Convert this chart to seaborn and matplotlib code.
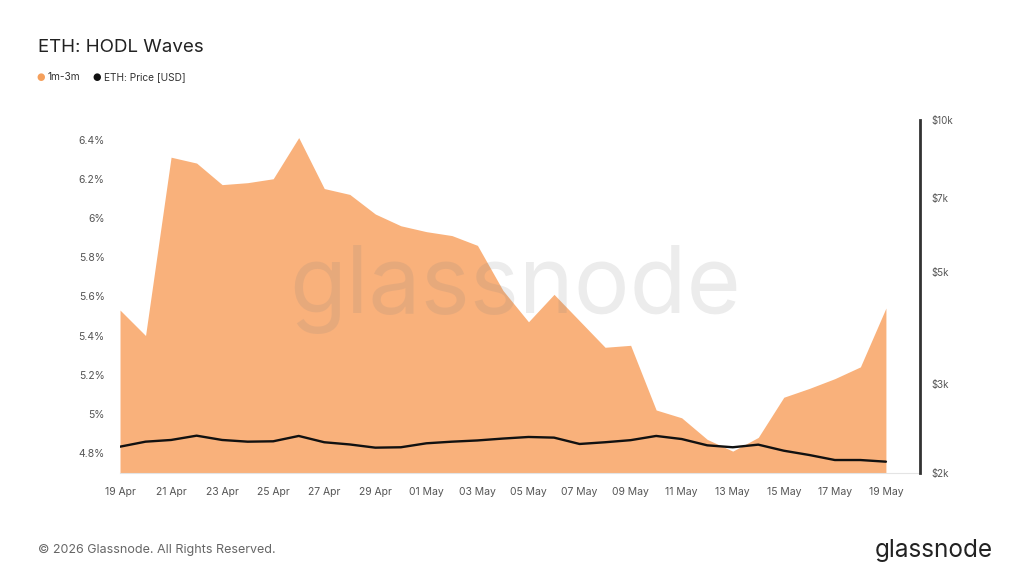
import numpy as np
import pandas as pd
import seaborn as sns
import matplotlib.pyplot as plt
import matplotlib.dates as mdates
from matplotlib.ticker import FixedLocator, NullLocator


# Datos (1 punto por día, 19 Apr -> 19 May)
fechas = pd.date_range("2025-04-19", "2025-05-19", freq="D")

hodl_1m_3m = [
    5.53, 5.40, 6.31, 6.28, 6.17, 6.18, 6.20, 6.41, 6.15, 6.12,
    6.02, 5.96, 5.93, 5.91, 5.86, 5.63, 5.47, 5.61, 5.475, 5.34,
    5.35, 5.02, 4.98, 4.87, 4.81, 4.88, 5.085, 5.13, 5.18, 5.24,
    5.54,
]

precio_eth = [
    2252, 2304, 2322, 2368, 2322, 2304, 2308, 2365, 2298, 2275,
    2242, 2246, 2287, 2304, 2317, 2337, 2354, 2347, 2280, 2298,
    2320, 2365, 2332, 2266, 2246, 2273, 2211, 2168, 2119, 2119,
    2103,
]

ticks_izq = [4.8, 5.0, 5.2, 5.4, 5.6, 5.8, 6.0, 6.2, 6.4]
ticks_der = [2000, 3000, 5000, 7000, 10000]
etiquetas_der = ["$2k", "$3k", "$5k", "$7k", "$10k"]

df = pd.DataFrame({"t": fechas, "hodl": hodl_1m_3m, "precio": precio_eth})

naranja = "#f9b17b"
gris_txt = "#555555"

sns.set_theme(style="white")
plt.rcParams["font.family"] = ["Inter", "DejaVu Sans"]

fig = plt.figure(figsize=(10.24, 5.74), dpi=100)
ax = fig.add_axes([0.1172, 0.1765, 0.7812, 0.6145])

# -----------------------------------------------------------------------------
# Área 1m-3m
# -----------------------------------------------------------------------------
sns.lineplot(data=df, x="t", y="hodl", ax=ax, color=naranja, linewidth=0)
ax.fill_between(df["t"], df["hodl"], 4.0, color=naranja, linewidth=0)

ax.set_ylim(4.70, 6.50)
ax.set_xlim(pd.Timestamp("2025-04-19"), pd.Timestamp("2025-05-20 08:00"))
ax.yaxis.set_major_locator(FixedLocator(ticks_izq))
ax.set_yticklabels([f"{v:g}%" for v in ticks_izq])
ax.set_xticks([d for d in fechas if (d - fechas[0]).days % 2 == 0])
ax.xaxis.set_major_formatter(mdates.DateFormatter("%d %b"))
ax.tick_params(axis="y", length=0, pad=11, labelsize=7.5, labelcolor=gris_txt)
ax.tick_params(axis="x", length=4, width=0.8, color="#dddddd", pad=6,
               labelsize=7.5, labelcolor=gris_txt)
ax.set_xlabel("")
ax.set_ylabel("")

for lado in ["left", "top", "right"]:
    ax.spines[lado].set_visible(False)
ax.spines["bottom"].set_color("#e4e4e4")
ax.spines["bottom"].set_linewidth(0.8)

# -----------------------------------------------------------------------------
# Precio ETH (eje derecho, log)
# -----------------------------------------------------------------------------
ax2 = ax.twinx()
sns.lineplot(data=df, x="t", y="precio", ax=ax2, color="#111111", linewidth=1.7)
ax2.set_yscale("log")
ax2.set_ylim(2000, 10000)
ax2.yaxis.set_major_locator(FixedLocator(ticks_der))
ax2.yaxis.set_minor_locator(NullLocator())
ax2.set_yticklabels(etiquetas_der)
ax2.tick_params(axis="y", length=0, pad=8, labelsize=7, labelcolor=gris_txt)
ax2.set_ylabel("")
ax2.set_xlabel("")
for lado in ["left", "top", "bottom"]:
    ax2.spines[lado].set_visible(False)
ax2.spines["right"].set_color("#333333")
ax2.spines["right"].set_linewidth(2)

# -----------------------------------------------------------------------------
# Textos: título, leyenda, marca de agua y pie
# -----------------------------------------------------------------------------
fig.text(38 / 1024, 1 - 47 / 574, "ETH: HODL Waves", fontsize=13.5,
         color="#222222", va="center", ha="left")

fig.text(41 / 1024, 1 - 77 / 574, "●", fontsize=7, color="#f5a05c",
         va="center", ha="center", family=["DejaVu Sans"])
fig.text(48 / 1024, 1 - 77 / 574, "1m-3m", fontsize=7.3, color="#333333",
         va="center", ha="left")
fig.text(97 / 1024, 1 - 77 / 574, "●", fontsize=7, color="#111111",
         va="center", ha="center", family=["DejaVu Sans"])
fig.text(104 / 1024, 1 - 77 / 574, "ETH: Price [USD]", fontsize=7.3,
         color="#333333", va="center", ha="left")

fig.text(515 / 1024, 1 - 290 / 574, "glassnode", fontsize=67, color="#808080",
         alpha=0.15, va="center", ha="center", family=["Inter", "DejaVu Sans"])

fig.text(38 / 1024, 1 - 550 / 574, "© 2026 Glassnode. All Rights Reserved.",
         fontsize=9, color="#666666", va="center", ha="left")
fig.text(993 / 1024, 1 - 550 / 574, "glassnode", fontsize=17.5, color="#222222",
         va="center", ha="right")

fig.savefig("out.png", dpi=100)
